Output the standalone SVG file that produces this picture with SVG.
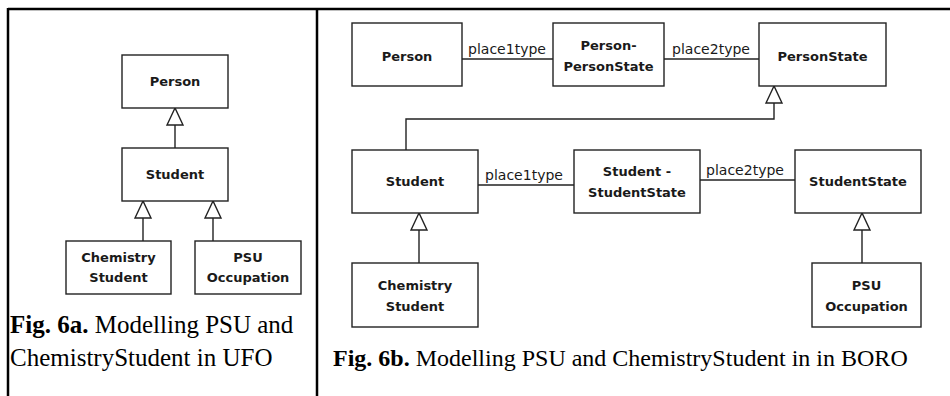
<svg xmlns="http://www.w3.org/2000/svg" width="950" height="396" viewBox="0 0 950 396">
<style>
.frame{stroke:#000;stroke-width:2.5;fill:none}
.box{fill:#fff;stroke:#222;stroke-width:1.4}
.ln{fill:none;stroke:#222;stroke-width:1.4}
.tri{fill:#fff;stroke:#222;stroke-width:1.4}
.t{font-family:"DejaVu Sans","Liberation Sans",sans-serif;font-weight:bold;font-size:13px;fill:#1a1a1a;text-anchor:middle}
.lbl{font-family:"DejaVu Sans","Liberation Sans",sans-serif;font-size:14px;fill:#1a1a1a;text-anchor:middle}
.cap{font-family:"Liberation Serif","Times New Roman",serif;font-size:24px;fill:#000}
.capl{font-size:25px}
.capb{font-weight:bold}
</style>
<rect width="950" height="396" fill="#fff"/>
<g id="frame">
<line class="frame" x1="8" y1="9" x2="950" y2="9"/>
<line class="frame" x1="8" y1="8" x2="8" y2="396"/>
<line class="frame" x1="317" y1="8" x2="317" y2="396"/>
</g>
<g id="connectors">
<line class="ln" x1="175" y1="148" x2="175" y2="125"/>
<polygon class="tri" points="175,108 167,125 183,125"/>
<line class="ln" x1="143" y1="241" x2="143" y2="218"/>
<polygon class="tri" points="143,201 135,218 151,218"/>
<line class="ln" x1="213" y1="241" x2="213" y2="218"/>
<polygon class="tri" points="213,201 205,218 221,218"/>
<line class="ln" x1="462" y1="59" x2="553" y2="59"/>
<line class="ln" x1="664" y1="59" x2="759" y2="59"/>
<polyline class="ln" points="406,150 406,119 774,119 774,103"/>
<polygon class="tri" points="774,86 766,103 782,103"/>
<line class="ln" x1="478" y1="185" x2="574" y2="185"/>
<line class="ln" x1="700" y1="180" x2="795" y2="180"/>
<line class="ln" x1="419" y1="263" x2="419" y2="230"/>
<polygon class="tri" points="419,213 411,230 427,230"/>
<line class="ln" x1="862" y1="263" x2="862" y2="230"/>
<polygon class="tri" points="862,213 854,230 870,230"/>
<text class="lbl" x="507" y="54">place1type</text>
<text class="lbl" x="711" y="54">place2type</text>
<text class="lbl" x="524" y="180">place1type</text>
<text class="lbl" x="745" y="175">place2type</text>
</g>
<g id="a-person"><rect class="box" x="122" y="55" width="106" height="53"/><text class="t" x="175" y="86">Person</text></g>
<g id="a-student"><rect class="box" x="122" y="148" width="106" height="53"/><text class="t" x="175" y="179">Student</text></g>
<g id="a-chem"><rect class="box" x="66" y="241" width="105" height="53"/><text class="t" x="118.5" y="262">Chemistry</text><text class="t" x="118.5" y="282">Student</text></g>
<g id="a-psu"><rect class="box" x="195" y="241" width="106" height="53"/><text class="t" x="248" y="262">PSU</text><text class="t" x="248" y="282">Occupation</text></g>
<g id="b-person"><rect class="box" x="352" y="23" width="110" height="63"/><text class="t" x="407" y="61">Person</text></g>
<g id="b-pps"><rect class="box" x="553" y="23" width="111" height="63"/><text class="t" x="608.5" y="50">Person-</text><text class="t" x="608.5" y="71">PersonState</text></g>
<g id="b-personstate"><rect class="box" x="759" y="23" width="127" height="63"/><text class="t" x="822.5" y="61">PersonState</text></g>
<g id="b-student"><rect class="box" x="352" y="150" width="126" height="63"/><text class="t" x="415" y="186">Student</text></g>
<g id="b-sss"><rect class="box" x="574" y="150" width="126" height="63"/><text class="t" x="637" y="176">Student -</text><text class="t" x="637" y="197">StudentState</text></g>
<g id="b-studentstate"><rect class="box" x="795" y="150" width="126" height="63"/><text class="t" x="858" y="186">StudentState</text></g>
<g id="b-chem"><rect class="box" x="352" y="263" width="126" height="64"/><text class="t" x="415" y="290">Chemistry</text><text class="t" x="415" y="311">Student</text></g>
<g id="b-psu"><rect class="box" x="812" y="263" width="109" height="64"/><text class="t" x="866.5" y="290">PSU</text><text class="t" x="866.5" y="311">Occupation</text></g>
<g id="captions">
<text class="cap capl" x="10" y="333"><tspan class="capb">Fig. 6a.</tspan> Modelling PSU and</text>
<text class="cap capl" x="10" y="366">ChemistryStudent in UFO</text>
<text class="cap" x="333" y="366"><tspan class="capb">Fig. 6b.</tspan> Modelling PSU and ChemistryStudent in in BORO</text>
</g>
</svg>
